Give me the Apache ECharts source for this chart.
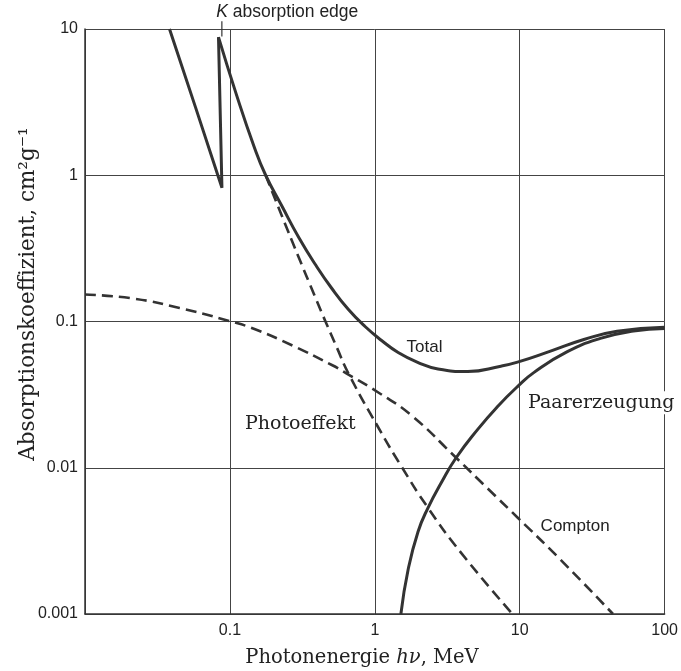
<!DOCTYPE html>
<html>
<head>
<meta charset="utf-8">
<script src="https://cdn.jsdelivr.net/npm/echarts@6/dist/echarts.min.js"></script>
<style>
  html, body { margin: 0; background: #fff; }
  #chart { width: 681px; height: 671px; }
</style>
</head>
<body>
<div id="chart"></div>
<script>
// values: [energy MeV, coefficient cm2/g]
const totalBelowEdge = [[0.0383, 10], [0.058, 2.9], [0.0881, 0.821], [0.0834, 8.8]];
const totalAboveEdge = [
  [0.0834, 8.8], [0.1099, 3.66], [0.1467, 1.573], [0.1765, 1.0], [0.2293, 0.611],
  [0.2987, 0.3753], [0.3888, 0.2452], [0.5053, 0.1681], [0.6577, 0.1208], [0.8565, 0.0924],
  [1.1135, 0.0742], [1.449, 0.0614], [1.989, 0.0524], [2.728, 0.0473], [4.38, 0.0455],
  [7.41, 0.0495], [9.65, 0.0527], [16.3, 0.0627], [27.7, 0.0753], [46.9, 0.0859], [100, 0.0914]
];
const photo = [
  [0.1765, 1.0], [0.2293, 0.522], [0.2987, 0.274], [0.3888, 0.1459], [0.455, 0.1008],
  [0.547, 0.0664], [0.6577, 0.0441], [1.057, 0.01885], [1.527, 0.0102], [2.328, 0.00532],
  [3.94, 0.00262], [8.91, 0.001]
];
const compton = [
  [0.01, 0.153], [0.02135, 0.1437], [0.0449, 0.1237], [0.0989, 0.1008], [0.1507, 0.0882],
  [0.27, 0.0685], [0.5053, 0.0504], [0.6577, 0.0434], [1.057, 0.0327], [1.789, 0.0228],
  [3.64, 0.0117], [6.01, 0.00721], [9.65, 0.00457], [18.2, 0.00247], [44.0, 0.001]
];
const pair = [
  [1.513, 0.001], [1.698, 0.002015], [1.989, 0.003665], [2.328, 0.00532], [2.873, 0.00789],
  [3.64, 0.0117], [5.13, 0.0183], [7.036, 0.02623], [9.65, 0.0359], [12.56, 0.0449],
  [21.3, 0.0622], [36.0, 0.0766], [60.9, 0.086], [100, 0.0895]
];
const kEdge = 0.088;

const ink = '#333';
const serif = '"DejaVu Serif", serif';
const sans = '"Liberation Sans", Arial, sans-serif';

const chart = echarts.init(document.getElementById('chart'));

function tickText(v) {
  return String(+v.toPrecision(3));
}

function curve(data, dashed, smooth) {
  return {
    type: 'line',
    data: data,
    symbol: 'none',
    smooth: smooth,
    z: dashed ? 3 : 5,
    lineStyle: { color: ink, width: dashed ? 2.6 : 3, type: dashed ? [11, 6] : 'solid' }
  };
}

chart.setOption({
  animation: false,
  backgroundColor: '#fff',
  grid: { left: 85, right: 13, top: 29, bottom: 57 },
  xAxis: {
    type: 'log', logBase: 10, min: 0.01, max: 100,
    axisLine: { show: true, lineStyle: { color: ink, width: 1.5 } },
    axisTick: { show: false },
    axisLabel: {
      color: '#222', fontFamily: sans, fontSize: 16, margin: 9,
      formatter: v => (Math.abs(v - 0.01) < 1e-9 ? '' : tickText(v))
    },
    splitLine: { show: true, lineStyle: { color: '#444', width: 1 } }
  },
  yAxis: {
    type: 'log', logBase: 10, min: 0.001, max: 10,
    axisLine: { show: true, lineStyle: { color: ink, width: 1.5 } },
    axisTick: { show: false },
    axisLabel: { color: '#222', fontFamily: sans, fontSize: 16, margin: 7, formatter: tickText },
    splitLine: { show: true, lineStyle: { color: '#444', width: 1 } }
  },
  series: [
    curve(compton, true, true),
    curve(photo, true, true),
    curve(pair, false, true),
    curve(totalBelowEdge, false, false),
    curve(totalAboveEdge, false, true)
  ]
});

// annotations anchored in data space
const px = p => chart.convertToPixel({ gridIndex: 0 }, p);
const kTop = px([kEdge, 11.3]), kBot = px([kEdge, 8.9]);
const kText = px([0.0805, 13]);
const totalAt = px([2.2, 0.0664]);
const comptonAt = px([24.1, 0.00398]);
const photoAt = px([0.3058, 0.0198]);
const pairAt = px([36.5, 0.0278]);

chart.setOption({
  graphic: [
    { type: 'line', shape: { x1: kTop[0], y1: kTop[1], x2: kBot[0], y2: kBot[1] },
      style: { stroke: ink, lineWidth: 1.2 } },
    { type: 'text', x: kText[0], y: kText[1],
      style: { text: '{k|K} absorption edge', fill: '#222', font: '17.5px ' + sans,
        align: 'left', verticalAlign: 'middle',
        rich: { k: { fontStyle: 'italic', fontSize: 17.5, fontFamily: sans, fill: '#222' } } } },
    { type: 'text', x: totalAt[0], y: totalAt[1],
      style: { text: 'Total', fill: '#222', font: '17px ' + sans, align: 'center', verticalAlign: 'middle' } },
    { type: 'text', x: comptonAt[0], y: comptonAt[1],
      style: { text: 'Compton', fill: '#222', font: '17px ' + sans, align: 'center', verticalAlign: 'middle' } },
    { type: 'text', x: photoAt[0], y: photoAt[1],
      style: { text: 'Photoeffekt', fill: '#222', font: '19px ' + serif, align: 'center', verticalAlign: 'middle' } },
    { type: 'text', x: pairAt[0], y: pairAt[1], z: 10,
      style: { text: 'Paarerzeugung', fill: '#222', font: '19px ' + serif, align: 'center', verticalAlign: 'middle',
        backgroundColor: '#fff', padding: [2, 2] } },
    { type: 'text', x: 362, y: 658,
      style: { text: 'Photonenergie {i|hν}, MeV', fill: '#222', font: '19.5px ' + serif,
        align: 'center', verticalAlign: 'middle',
        rich: { i: { fontStyle: 'italic', fontSize: 19.5, fontFamily: serif, fill: '#222' } } } },
    { type: 'text', x: 28, y: 294, rotation: Math.PI / 2,
      style: { text: 'Absorptionskoeffizient, cm²g⁻¹', fill: '#222', font: '21.5px ' + serif,
        align: 'center', verticalAlign: 'middle' } }
  ]
});
</script>
</body>
</html>
